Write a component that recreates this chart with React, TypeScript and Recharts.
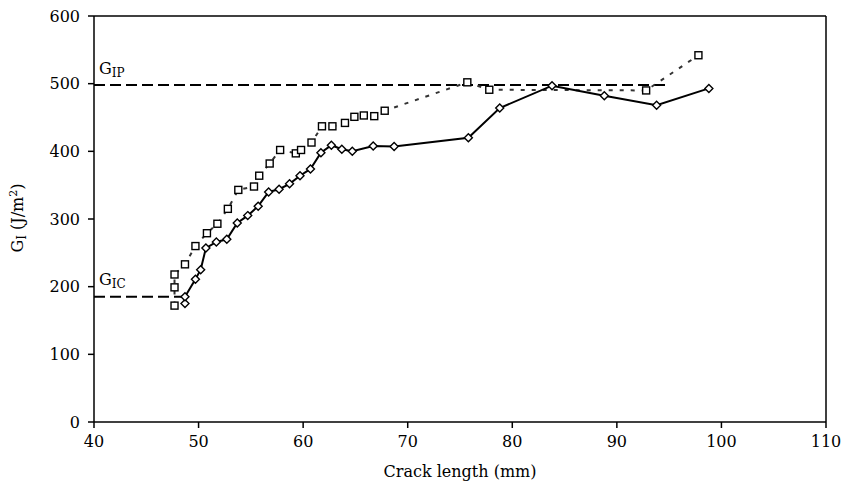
import { ComposedChart, Scatter, XAxis, YAxis, ReferenceLine } from 'recharts';

// solid curve, diamond markers
const diamondCrack = [48.7, 48.7, 49.7, 50.2, 50.7, 51.7, 52.7, 53.7, 54.7, 55.7, 56.7, 57.7, 58.7, 59.7, 60.7, 61.7, 62.7, 63.7, 64.7, 66.7, 68.7, 75.8, 78.8, 83.8, 88.8, 93.8, 98.8];
const diamondG = [175, 185, 211, 225, 257, 266, 270, 294, 305, 319, 340, 344, 352, 364, 374, 398, 409, 403, 400, 408, 407, 420, 464, 497, 482, 468, 493];

// dotted curve, square markers
const squareCrack = [47.7, 47.7, 47.7, 48.7, 49.7, 50.8, 51.8, 52.8, 53.8, 55.3, 55.8, 56.8, 57.8, 59.3, 59.8, 60.8, 61.8, 62.8, 64.0, 64.9, 65.8, 66.8, 67.8, 75.7, 77.8, 92.8, 97.8];
const squareG = [172, 199, 218, 233, 260, 279, 293, 315, 343, 348, 364, 382, 402, 397, 402, 413, 437, 437, 442, 451, 453, 452, 460, 502, 491, 490, 542];

const xTicks = [40, 50, 60, 70, 80, 90, 100, 110];
const yTicks = [0, 100, 200, 300, 400, 500, 600];

const G_IP = 498;
const G_IC = 185;

const FONT = '"DejaVu Serif", serif';

const diamonds = diamondCrack.map((x, i) => ({ x, y: diamondG[i] }));
const squares = squareCrack.map((x, i) => ({ x, y: squareG[i] }));

const Diamond = (p: any) => {
  const { cx, cy } = p;
  const r = 4;
  return (
    <path
      d={`M${cx},${cy - r}L${cx + r},${cy}L${cx},${cy + r}L${cx - r},${cy}Z`}
      fill="#fff"
      stroke="#000"
      strokeWidth={1.4}
    />
  );
};

const Square = (p: any) => {
  const { cx, cy } = p;
  return <rect x={cx - 3.5} y={cy - 3.5} width={7} height={7} fill="#fff" stroke="#000" strokeWidth={1.4} />;
};

const tickStyle = { fill: '#000', fontSize: 16, fontFamily: FONT };

export default function App() {
  return (
    <div style={{ position: 'relative', width: 846, height: 488, fontFamily: FONT, color: '#000' }}>
      <style>{'body{margin:0}'}</style>
      <ComposedChart width={846} height={488} margin={{ top: 16, right: 20, bottom: 36, left: 34 }}>
        <XAxis
          type="number"
          dataKey="x"
          domain={[40, 110]}
          ticks={xTicks}
          tick={tickStyle}
          tickSize={6}
          tickMargin={8}
          height={30}
          stroke="#000"
          strokeWidth={1.5}
        />
        <YAxis
          type="number"
          dataKey="y"
          domain={[0, 600]}
          ticks={yTicks}
          tick={tickStyle}
          tickSize={6}
          tickMargin={8}
          width={60}
          stroke="#000"
          strokeWidth={1.5}
        />
        <ReferenceLine y={600} stroke="#000" strokeWidth={1.5} />
        <ReferenceLine x={110} stroke="#000" strokeWidth={1.5} />
        <ReferenceLine
          segment={[{ x: 40, y: G_IP }, { x: 94.8, y: G_IP }]}
          stroke="#000"
          strokeWidth={2}
          strokeDasharray="11 5"
        />
        <ReferenceLine
          segment={[{ x: 40, y: G_IC }, { x: 48.5, y: G_IC }]}
          stroke="#000"
          strokeWidth={2}
          strokeDasharray="11 5"
        />
        <Scatter
          data={squares}
          line={{ stroke: '#333', strokeWidth: 2, strokeDasharray: '4 7' }}
          lineType="joint"
          shape={Square}
          isAnimationActive={false}
        />
        <Scatter
          data={diamonds}
          line={{ stroke: '#000', strokeWidth: 2 }}
          lineType="joint"
          shape={Diamond}
          isAnimationActive={false}
        />
      </ComposedChart>

      <div style={{ position: 'absolute', left: 99, top: 61, fontSize: 16, lineHeight: '16px', whiteSpace: 'nowrap' }}>
        G<span style={{ fontSize: 12, position: 'relative', top: 3 }}>IP</span>
      </div>
      <div style={{ position: 'absolute', left: 99, top: 272, fontSize: 16, lineHeight: '16px', whiteSpace: 'nowrap' }}>
        G<span style={{ fontSize: 12, position: 'relative', top: 3 }}>IC</span>
      </div>
      <div
        style={{
          position: 'absolute',
          left: 19,
          top: 218,
          fontSize: 16,
          lineHeight: '16px',
          whiteSpace: 'nowrap',
          transform: 'translate(-50%, -50%) rotate(-90deg)',
        }}
      >
        G<span style={{ fontSize: 12, position: 'relative', top: 3 }}>I</span> (J/m
        <span style={{ fontSize: 11, position: 'relative', top: -6 }}>2</span>)
      </div>
      <div
        style={{
          position: 'absolute',
          left: 460,
          top: 464,
          fontSize: 16,
          lineHeight: '16px',
          whiteSpace: 'nowrap',
          transform: 'translateX(-50%)',
        }}
      >
        Crack length (mm)
      </div>
    </div>
  );
}
